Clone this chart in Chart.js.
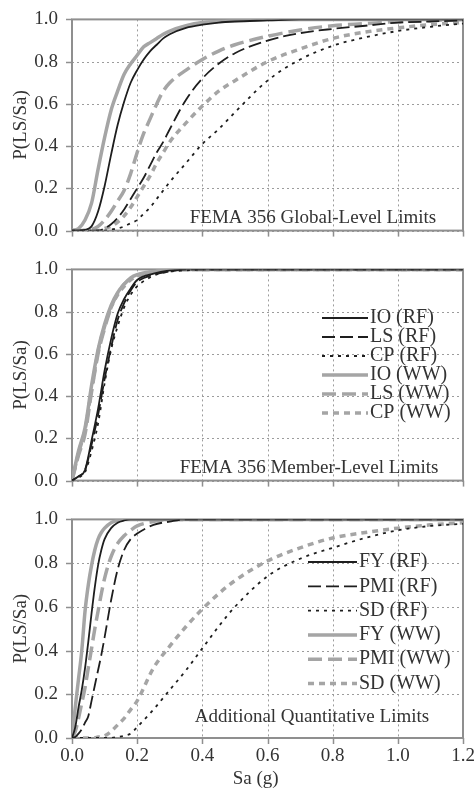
<!DOCTYPE html>
<html>
<head>
<meta charset="utf-8">
<script src="https://cdn.jsdelivr.net/npm/chart.js@4"></script>
<style>
  html, body { margin:0; padding:0; background:#fff; }
  #wrap { position:relative; width:476px; height:792px; }
  canvas { position:absolute; left:0; }
</style>
</head>
<body>
<div id="wrap">
  <canvas id="c1" width="476" height="250" style="top:0"></canvas>
  <canvas id="c2" width="476" height="250" style="top:250px"></canvas>
  <canvas id="c3" width="476" height="292" style="top:500px"></canvas>
</div>
<script>
// ---- data ----
const saGlobal = [0,0.02,0.04,0.06,0.08,0.10,0.12,0.14,0.16,0.18,0.20,0.22,0.24,0.26,0.28,0.30,0.35,0.40,0.45,0.50,0.60,0.70,0.80,0.90,1.00,1.10,1.20];
const globalIoRF = [0,0,0.003,0.02,0.09,0.21,0.36,0.50,0.61,0.70,0.76,0.81,0.85,0.88,0.91,0.93,0.96,0.975,0.985,0.99,0.995,1,1,1,1,1,1];
const globalLsRF = [0,0,0,0,0,0.01,0.03,0.06,0.10,0.15,0.20,0.25,0.31,0.37,0.42,0.48,0.62,0.72,0.79,0.84,0.90,0.935,0.955,0.97,0.985,0.99,0.995];
const globalCpRF = [0,0,0,0,0,0,0.005,0.01,0.02,0.035,0.05,0.08,0.11,0.15,0.19,0.23,0.32,0.41,0.48,0.56,0.71,0.81,0.875,0.915,0.945,0.965,0.98];
const globalIoWW = [0,0.01,0.05,0.13,0.29,0.44,0.57,0.66,0.74,0.79,0.83,0.87,0.89,0.91,0.93,0.945,0.97,0.985,0.99,0.995,1,1,1,1,1,1,1];
const globalLsWW = [0,0,0,0.005,0.02,0.05,0.09,0.14,0.19,0.27,0.37,0.46,0.53,0.60,0.66,0.70,0.76,0.81,0.85,0.88,0.92,0.95,0.97,0.98,0.99,0.995,1];
const globalCpWW = [0,0,0,0,0,0.01,0.02,0.04,0.07,0.11,0.16,0.21,0.26,0.32,0.37,0.42,0.51,0.59,0.66,0.71,0.80,0.86,0.91,0.94,0.96,0.975,0.985];

const saMember = [0,0.02,0.04,0.06,0.08,0.10,0.12,0.14,0.16,0.18,0.20,0.25,0.30,0.35,0.40,0.60,0.80,1.00,1.20];
const memberIoRF = [0,0.02,0.05,0.19,0.34,0.52,0.67,0.79,0.86,0.91,0.95,0.98,0.995,1,1,1,1,1,1];
const memberLsRF = [0,0.02,0.05,0.17,0.31,0.48,0.63,0.76,0.84,0.90,0.94,0.975,0.99,1,1,1,1,1,1];
const memberCpRF = [0,0.015,0.04,0.14,0.27,0.46,0.62,0.73,0.82,0.88,0.92,0.97,0.99,0.995,1,1,1,1,1];
const memberIoWW = [0,0.14,0.25,0.45,0.62,0.74,0.83,0.89,0.93,0.96,0.975,0.99,1,1,1,1,1,1,1];
const memberLsWW = [0,0.12,0.22,0.42,0.60,0.72,0.82,0.885,0.93,0.955,0.97,0.99,1,1,1,1,1,1,1];
const memberCpWW = [0,0.13,0.24,0.43,0.61,0.73,0.82,0.88,0.92,0.95,0.97,0.985,0.995,1,1,1,1,1,1];

const saExtra = [0,0.01,0.02,0.03,0.04,0.05,0.06,0.07,0.08,0.09,0.10,0.12,0.14,0.16,0.18,0.20,0.25,0.30,0.35,0.40,0.45,0.50,0.60,0.70,0.80,0.90,1.00,1.10,1.20];
const extraFyRF  = [0,0.05,0.14,0.22,0.32,0.44,0.57,0.69,0.79,0.86,0.91,0.96,0.985,0.995,1,1,1,1,1,1,1,1,1,1,1,1,1,1,1];
const extraPmiRF = [0,0.005,0.02,0.04,0.07,0.10,0.17,0.24,0.31,0.38,0.46,0.63,0.77,0.86,0.91,0.935,0.975,0.99,1,1,1,1,1,1,1,1,1,1,1];
const extraSdRF  = [0,0,0,0,0,0,0,0,0,0,0,0,0.005,0.01,0.02,0.05,0.13,0.22,0.31,0.41,0.51,0.60,0.74,0.82,0.87,0.915,0.95,0.97,0.98];
const extraFyWW  = [0,0.14,0.27,0.40,0.58,0.70,0.79,0.86,0.91,0.94,0.96,0.985,0.995,1,1,1,1,1,1,1,1,1,1,1,1,1,1,1,1];
const extraPmiWW = [0,0.03,0.09,0.16,0.23,0.32,0.41,0.50,0.58,0.66,0.73,0.83,0.89,0.925,0.95,0.97,0.99,1,1,1,1,1,1,1,1,1,1,1,1];
const extraSdWW  = [0,0,0,0,0,0,0,0,0.005,0.007,0.01,0.03,0.06,0.09,0.13,0.17,0.32,0.42,0.51,0.59,0.66,0.72,0.81,0.87,0.915,0.94,0.96,0.975,0.985];

const yTicks = [0,0.2,0.4,0.6,0.8,1.0];

// ---- styles ----
const FONT = '"Liberation Serif", "DejaVu Serif", serif';
const TXT = '#333';
const BLK = '#1e1e1e', GRY = '#a5a5a5';
const styles = {
  solidRF: {borderColor:BLK, borderWidth:1.8, borderDash:[]},
  longRF:  {borderColor:BLK, borderWidth:1.8, borderDash:[13,5]},
  dotRF:   {borderColor:BLK, borderWidth:1.8, borderDash:[3,5]},
  solidWW: {borderColor:GRY, borderWidth:3.5, borderDash:[]},
  longWW:  {borderColor:GRY, borderWidth:3.5, borderDash:[14,6]},
  dotWW:   {borderColor:GRY, borderWidth:3.5, borderDash:[6,5]}
};

function series(label, sa, vals, st){
  return Object.assign({label, data: sa.map((x,i)=>({x, y: vals[i]})), pointRadius:0, fill:false,
    cubicInterpolationMode:'monotone', borderCapStyle:'butt'}, styles[st]);
}

// dotted grid, outer tick marks and the frame, all placed from the scales' ticks
const framePlugin = {
  id:'frame',
  beforeDatasetsDraw(chart){
    const {ctx, chartArea:a, scales:{x, y}} = chart;
    ctx.save();
    ctx.strokeStyle = '#9c9c9c'; ctx.lineWidth = 1; ctx.setLineDash([2,3]);
    x.ticks.forEach(t=>{ const p = Math.round(x.getPixelForValue(t.value))+0.5;
      ctx.beginPath(); ctx.moveTo(p, a.top); ctx.lineTo(p, a.bottom); ctx.stroke(); });
    y.ticks.forEach(t=>{ const p = Math.round(y.getPixelForValue(t.value))+0.5;
      ctx.beginPath(); ctx.moveTo(a.left, p); ctx.lineTo(a.right, p); ctx.stroke(); });
    ctx.setLineDash([]); ctx.strokeStyle = '#8f8f8f'; ctx.lineWidth = 1.5;
    x.ticks.forEach(t=>{ const p = Math.round(x.getPixelForValue(t.value))+0.5;
      ctx.beginPath(); ctx.moveTo(p, a.bottom); ctx.lineTo(p, a.bottom+6); ctx.stroke(); });
    y.ticks.forEach(t=>{ const p = Math.round(y.getPixelForValue(t.value))+0.5;
      ctx.beginPath(); ctx.moveTo(a.left-6, p); ctx.lineTo(a.left, p); ctx.stroke(); });
    ctx.lineWidth = 2;
    ctx.strokeRect(a.left, a.top, a.right-a.left, a.bottom-a.top);
    ctx.restore();
  }
};
const notePlugin = {
  id:'note',
  afterDatasetsDraw(chart, args, o){
    const ctx = chart.ctx;
    ctx.save(); ctx.font = `19px ${FONT}`; ctx.fillStyle = TXT; ctx.textAlign='center'; ctx.textBaseline='middle';
    ctx.fillText(o.text, o.x, o.y); ctx.restore();
  }
};
const legendPlugin = {
  id:'plotLegend',
  afterDatasetsDraw(chart, args, o){
    if(!o.show) return;
    const ctx = chart.ctx;
    chart.data.datasets.forEach((ds,i)=>{
      const y = o.y + i*o.gap;
      ctx.save();
      ctx.strokeStyle = ds.borderColor; ctx.lineWidth = ds.borderWidth; ctx.setLineDash(ds.borderDash);
      ctx.beginPath(); ctx.moveTo(o.x, y); ctx.lineTo(o.x+o.len, y); ctx.stroke();
      ctx.setLineDash([]); ctx.font = `20px ${FONT}`; ctx.fillStyle = TXT; ctx.textBaseline='middle';
      ctx.fillText(ds.label, o.x+o.len+2, y);
      ctx.restore();
    });
  }
};

const hidden = 'rgba(0,0,0,0)';
function makeChart(id, datasets, cfg){
  return new Chart(document.getElementById(id), {
    type:'line',
    data:{datasets},
    plugins:[framePlugin, notePlugin, legendPlugin],
    options:{
      responsive:false, animation:false,
      layout:{padding:{left:0, right:13, top:cfg.top, bottom:0}},
      plugins:{legend:{display:false}, tooltip:{enabled:false},
        note:cfg.note, plotLegend:cfg.legend || {show:false}},
      scales:{
        x:{type:'linear', min:0, max:1.2,
          afterFit:s=>{ s.height = cfg.xHeight; },
          grid:{color:hidden, tickColor:hidden, tickLength:6},
          border:{display:false},
          ticks:{display:cfg.xLabels, stepSize:0.2, padding:1, color:TXT, font:{family:FONT, size:19},
            callback:v=>v.toFixed(1), maxRotation:0},
          title:{display:cfg.xLabels, text:'Sa (g)     ', color:TXT, font:{family:FONT, size:19, lineHeight:1.2}, padding:{top:0,bottom:2}}
        },
        y:{min:0, max:1,
          afterFit:s=>{ s.width = 72; },
          afterBuildTicks:s=>{ s.ticks = yTicks.map(v=>({value:v})); },
          grid:{color:hidden, tickColor:hidden, tickLength:6},
          border:{display:false},
          ticks:{padding:8, color:TXT, font:{family:FONT, size:19}, callback:v=>v.toFixed(1)},
          title:{display:true, text:'P(LS/Sa)', color:TXT, font:{family:FONT, size:19, lineHeight:1.2}, padding:{top:10,bottom:0}}
        }
      }
    }
  });
}

makeChart('c1', [
  series('IO (RF)', saGlobal, globalIoRF, 'solidRF'),
  series('LS (RF)', saGlobal, globalLsRF, 'longRF'),
  series('CP (RF)', saGlobal, globalCpRF, 'dotRF'),
  series('IO (WW)', saGlobal, globalIoWW, 'solidWW'),
  series('LS (WW)', saGlobal, globalLsWW, 'longWW'),
  series('CP (WW)', saGlobal, globalCpWW, 'dotWW')
], {top:15, xHeight:16, xLabels:false, note:{text:'FEMA 356 Global-Level Limits', x:313, y:218}});

makeChart('c2', [
  series('IO (RF)', saMember, memberIoRF, 'solidRF'),
  series('LS (RF)', saMember, memberLsRF, 'longRF'),
  series('CP (RF)', saMember, memberCpRF, 'dotRF'),
  series('IO (WW)', saMember, memberIoWW, 'solidWW'),
  series('LS (WW)', saMember, memberLsWW, 'longWW'),
  series('CP (WW)', saMember, memberCpWW, 'dotWW')
], {top:14, xHeight:15, xLabels:false, note:{text:'FEMA 356 Member-Level Limits', x:309, y:218},
   legend:{show:true, x:322, y:68, gap:19, len:46}});

makeChart('c3', [
  series('FY (RF)', saExtra, extraFyRF, 'solidRF'),
  series('PMI (RF)', saExtra, extraPmiRF, 'longRF'),
  series('SD (RF)', saExtra, extraSdRF, 'dotRF'),
  series('FY (WW)', saExtra, extraFyWW, 'solidWW'),
  series('PMI (WW)', saExtra, extraPmiWW, 'longWW'),
  series('SD (WW)', saExtra, extraSdWW, 'dotWW')
], {top:17, xHeight:54, xLabels:true, note:{text:'Additional Quantitative Limits', x:312, y:217},
   legend:{show:true, x:308, y:62, gap:24.3, len:49}});
</script>
</body>
</html>
